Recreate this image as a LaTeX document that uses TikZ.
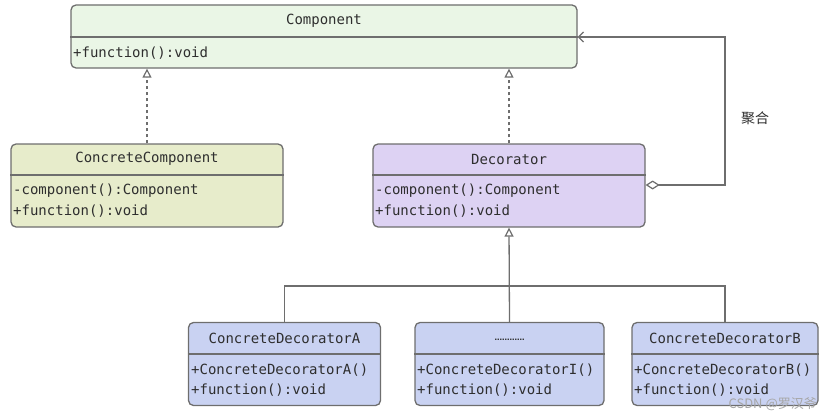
\documentclass[tikz,border=0pt]{standalone}
\usepackage{fontspec}
\setmonofont{DejaVu Sans Mono}
\newfontfamily\cjk{Noto Sans CJK SC}
\newfontfamily\dvs{DejaVu Sans}
\usetikzlibrary{arrows.meta,calc}
\definecolor{bordc}{HTML}{6E6E6E}
\definecolor{txtc}{HTML}{2E2E2E}
\definecolor{fgreen}{HTML}{EAF6E6}
\definecolor{fyellow}{HTML}{E7ECCB}
\definecolor{fviolet}{HTML}{DDD2F3}
\definecolor{fblue}{HTML}{C9D2F2}
\begin{document}
\begin{tikzpicture}[x=1pt,y=-1pt,
  classbox/.style={draw=bordc, line width=1.3pt, rounded corners=5pt, inner sep=0pt},
  divline/.style={draw=bordc, line width=1.3pt},
  titletext/.style={inner sep=0pt, text=txtc, font=\ttfamily\fontsize{14}{16}\selectfont},
  attrtext/.style={inner sep=0pt, anchor=west, text=txtc, font=\ttfamily\fontsize{14}{16}\selectfont},
  conn/.style={draw=bordc, line width=1.3pt},
  realize/.style={conn, dash pattern=on 3pt off 3pt, -{Triangle[open, length=9pt, width=9pt, line width=1.2pt, fill=white]}},
  inherit/.style={conn, -{Triangle[open, length=9pt, width=9pt, line width=1.2pt, fill=white]}},
  aggreg/.style={conn, {Diamond[open, length=14pt, width=9pt, line width=1.2pt, fill=white]}-{Straight Barb[length=5pt, width=10pt, line width=1.3pt]}}
]
\useasboundingbox (0,0) rectangle (832,420);

% Component
\node[classbox, fill=fgreen, minimum width=506pt, minimum height=63pt] (comp) at (324,36.5) {};
\draw[divline] (comp.west |- 0,37) -- (comp.east |- 0,37);
\node[titletext] (compT) at (324,21) {Component};
\node[attrtext] (compA) at (73,53) {+function():void};

% ConcreteComponent
\node[classbox, fill=fyellow, minimum width=272pt, minimum height=83pt] (cc) at (147,185.5) {};
\draw[divline] (cc.west |- 0,175) -- (cc.east |- 0,175);
\node[titletext] (ccT) at (147,159) {ConcreteComponent};
\node[attrtext] (ccA1) at (13,191) {-component():Component};
\node[attrtext] (ccA2) at (13,211) {+function():void};

% Decorator
\node[classbox, fill=fviolet, minimum width=272pt, minimum height=83pt] (dec) at (509,185.5) {};
\draw[divline] (dec.west |- 0,175) -- (dec.east |- 0,175);
\node[titletext] (decT) at (509,159) {Decorator};
\node[attrtext] (decA1) at (375,191) {-component():Component};
\node[attrtext] (decA2) at (375,211) {+function():void};

% ConcreteDecoratorA
\node[classbox, fill=fblue, minimum width=192pt, minimum height=83pt] (cda) at (284.5,364) {};
\draw[divline] (cda.west |- 0,354) -- (cda.east |- 0,354);
\node[titletext] (cdaT) at (284.5,338.5) {ConcreteDecoratorA};
\node[attrtext] (cdaA1) at (191,370) {+ConcreteDecoratorA()};
\node[attrtext] (cdaA2) at (191,390) {+function():void};

% middle
\node[classbox, fill=fblue, minimum width=189pt, minimum height=83pt] (cdi) at (509.5,364) {};
\draw[divline] (cdi.west |- 0,354) -- (cdi.east |- 0,354);
\node[inner sep=0pt, text=txtc, font=\dvs\bfseries\fontsize{7.5}{8}\selectfont] (cdiT) at (509.5,340) {…………};
\node[attrtext] (cdiA1) at (417,370) {+ConcreteDecoratorI()};
\node[attrtext] (cdiA2) at (417,390) {+function():void};

% ConcreteDecoratorB
\node[classbox, fill=fblue, minimum width=186pt, minimum height=83pt] (cdb) at (725,364) {};
\draw[divline] (cdb.west |- 0,354) -- (cdb.east |- 0,354);
\node[titletext] (cdbT) at (725,338.5) {ConcreteDecoratorB};
\node[attrtext] (cdbA1) at (634,370) {+ConcreteDecoratorB()};
\node[attrtext] (cdbA2) at (634,390) {+function():void};

% connectors
\draw[realize] (cc.north) -- (cc.north |- comp.south);
\draw[realize] (dec.north) -- (dec.north |- comp.south);

\coordinate (aggR) at (725,185);
\coordinate (aggT) at (725,37);
\draw[aggreg] (dec.east |- aggR) -- (aggR) -- (aggT) -- (comp.east |- aggT);
\node[inner sep=0pt, text=txtc, font=\cjk\fontsize{14}{16}\selectfont] (agglabel) at (755,118) {聚合};

\coordinate (busY) at (0,286);
\draw[conn] (cda.north) -- (cda.north |- busY) -- (cdb.north |- busY) -- (cdb.north);
\draw[inherit] (cdi.north) -- (dec.south);

% watermark
\node[inner sep=0pt, anchor=east, text=black!35, font=\cjk\fontsize{13}{14}\selectfont] (wm) at (817,404) {CSDN @罗汉爷};
\end{tikzpicture}
\end{document}
